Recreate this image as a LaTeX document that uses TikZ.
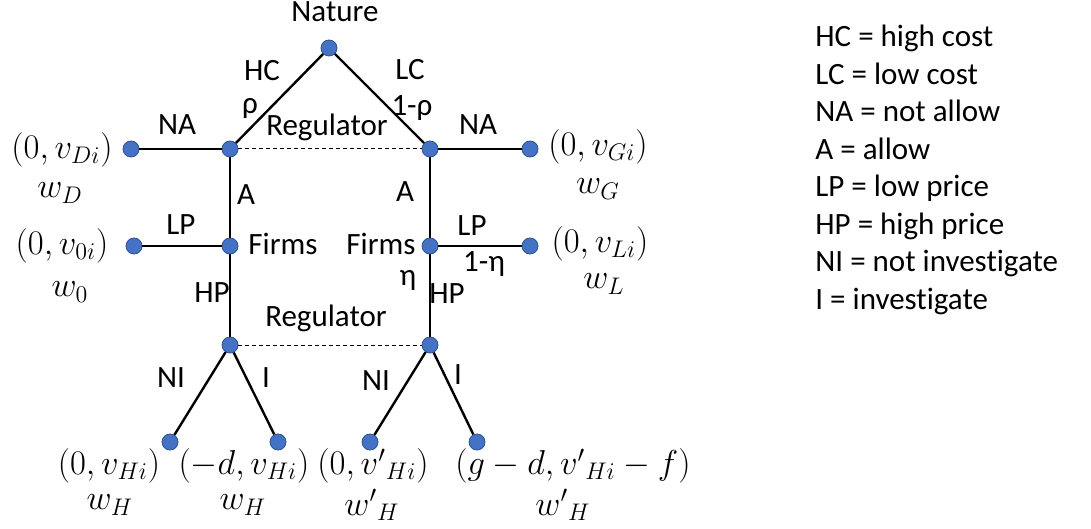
\documentclass[tikz,border=0pt]{standalone}
\usepackage{fontspec}
\setmainfont{Carlito}[Ligatures=NoCommon]
\usetikzlibrary{positioning}
\definecolor{dotfill}{HTML}{4472C4}
\definecolor{dotline}{HTML}{2F528F}
\tikzset{
  dot/.style   = {circle, draw=dotline, fill=dotfill, line width=0.4pt,
                  minimum size=8pt, inner sep=0pt},
  lbl/.style   = {inner sep=0pt, font=\fontsize{15.5}{18}\selectfont},
  pay/.style   = {inner sep=0pt, font=\fontsize{17}{20}\selectfont},
  edge/.style  = {line width=1.2pt},
  info/.style  = {line width=0.5pt, dash pattern=on 2pt off 1.5pt},   % information set
  keybox/.style = {lbl, align=left, anchor=north west,
                  font=\fontsize{15.5}{18.75}\selectfont},
}

\begin{document}
\begin{tikzpicture}[x=0.5pt, y=-0.5pt]
  \useasboundingbox (0,0) rectangle (1091,529);

  % decision nodes
  \node[dot] at (329,  48) (nat) {};
  \node[dot] at (230, 149) (reg1) {};
  \node[dot] at (430, 149) (reg2) {};
  \node[dot] at (230, 246) (firm1) {};
  \node[dot] at (430, 246) (firm2) {};
  \node[dot] at (230, 345) (reg3) {};
  \node[dot] at (430, 345) (reg4) {};

  % terminal nodes
  \node[dot] at (131, 149) (endD) {};
  \node[dot] at (530, 149) (endG) {};
  \node[dot] at (134, 246) (end0) {};
  \node[dot] at (530, 246) (endL) {};
  \node[dot] at (170, 442) (endH1) {};
  \node[dot] at (278, 442) (endH2) {};
  \node[dot] at (370, 442) (endH3) {};
  \node[dot] at (477, 442) (endH4) {};

  \draw[edge] (nat)   -- (reg1);
  \draw[edge] (nat)   -- (reg2);
  \draw[edge] (reg1)  -- (endD);
  \draw[edge] (reg2)  -- (endG);
  \draw[edge] (reg1)  -- (firm1);
  \draw[edge] (reg2)  -- (firm2);
  \draw[edge] (firm1) -- (end0);
  \draw[edge] (firm2) -- (endL);
  \draw[edge] (firm1) -- (reg3);
  \draw[edge] (firm2) -- (reg4);
  \draw[edge] (reg3)  -- (endH1);
  \draw[edge] (reg3)  -- (endH2);
  \draw[edge] (reg4)  -- (endH3);
  \draw[edge] (reg4)  -- (endH4);
  \draw[info] (reg1)  -- (reg2);
  \draw[info] (reg3)  -- (reg4);

  % players and moves
  \node[lbl] at (335,  12) (tNat)   {Nature};
  \node[lbl] at (262,  71) (tHC)    {HC};
  \node[lbl] at (250, 108) (tRho)   {ρ};
  \node[lbl] at (410,  70) (tLC)    {LC};
  \node[lbl] at (412, 108) (tRho2)  {1-ρ};
  \node[lbl] at (327, 127) (tReg1)  {Regulator};
  \node[lbl] at (177, 125) (tNA1)   {NA};
  \node[lbl] at (478, 125) (tNA2)   {NA};
  \node[lbl] at (246, 195) (tA1)    {A};
  \node[lbl] at (405, 192) (tA2)    {A};
  \node[lbl] at (181, 225) (tLP1)   {LP};
  \node[lbl] at (472, 226) (tLP2)   {LP};
  \node[lbl] at (283, 244) (tFirm1) {Firms};
  \node[lbl] at (381, 244) (tFirm2) {Firms};
  \node[lbl] at (484, 264) (tEta2)  {1-η};
  \node[lbl] at (408, 280) (tEta)   {η};
  \node[lbl] at (212, 293) (tHP1)   {HP};
  \node[lbl] at (447, 294) (tHP2)   {HP};
  \node[lbl] at (326, 318) (tReg2)  {Regulator};
  \node[lbl] at (171, 378) (tNI1)   {NI};
  \node[lbl] at (266, 378) (tI1)    {I};
  \node[lbl] at (376, 381) (tNI2)   {NI};
  \node[lbl] at (458, 375) (tI2)    {I};

  % payoffs
  \node[pay] at ( 62, 150) (pD)  {$(0,v_{Di})$};
  \node[pay] at ( 60, 193) (wD)  {$w_D$};
  \node[pay] at ( 62, 246) (p0)  {$(0,v_{0i})$};
  \node[pay] at ( 70, 292) (w0)  {$w_0$};
  \node[pay] at (598, 147) (pG)  {$(0,v_{Gi})$};
  \node[pay] at (598, 189) (wG)  {$w_G$};
  \node[pay] at (600, 244) (pL)  {$(0,v_{Li})$};
  \node[pay] at (604, 284) (wL)  {$w_L$};
  \node[pay] at (109, 466) (pH1) {$(0,v_{Hi})$};
  \node[pay] at (110, 505) (wH1) {$w_H$};
  \node[pay] at (244, 466) (pH2) {$(-d,v_{Hi})$};
  \node[pay] at (243, 505) (wH2) {$w_H$};
  \node[pay] at (373, 466) (pH3) {$(0,{v'}_{Hi})$};
  \node[pay] at (372, 505) (wH3) {${w'}_H$};
  \node[pay] at (573, 466) (pH4) {$(g-d,{v'}_{Hi}-f)$};
  \node[pay] at (563, 505) (wH4) {${w'}_H$};

  % key
  \node[keybox] at (815, 25) (key) {HC = high cost\\ LC = low cost\\ NA = not allow\\
    A = allow\\ LP = low price\\ HP = high price\\ NI = not investigate\\ I = investigate};
\end{tikzpicture}
\end{document}
